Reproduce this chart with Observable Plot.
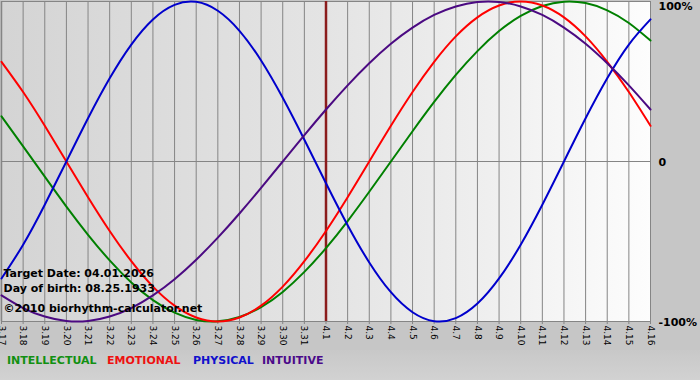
<!DOCTYPE html>
<html>
<head>
<meta charset="utf-8">
<script src="https://cdn.jsdelivr.net/npm/d3@7"></script>
<script src="https://cdn.jsdelivr.net/npm/@observablehq/plot@0.6"></script>
<style>
  html, body { margin: 0; padding: 0; }
  body { width: 700px; height: 380px; background: #c6c6c6; font-family: "DejaVu Sans", Verdana, sans-serif; overflow: hidden; }
  #chart { height: 350px; }
  #legend { position: relative; height: 30px; background: linear-gradient(#c8c8c8, #d2d2d2); }
  #legend span { position: absolute; top: 4px; font-weight: bold; font-size: 11px; white-space: nowrap; }
</style>
</head>
<body>
<div id="chart"></div>
<div id="legend"></div>
<script>
// Day labels (3.17 .. 4.16)
const dayLabels = ["3.17","3.18","3.19","3.20","3.21","3.22","3.23","3.24","3.25","3.26","3.27","3.28","3.29","3.30","3.31",
  "4.1","4.2","4.3","4.4","4.5","4.6","4.7","4.8","4.9","4.10","4.11","4.12","4.13","4.14","4.15","4.16"];
const targetIndex = 15; // 4.1

// Values read per day (-1 .. 1)
const intellectual = [0.282,0.095,-0.095,-0.282,-0.458,-0.618,-0.756,-0.866,-0.945,-0.990,-0.999,-0.972,-0.910,-0.815,-0.690,
  -0.541,-0.372,-0.189,0.000,0.189,0.372,0.541,0.690,0.815,0.910,0.972,0.999,0.990,0.945,0.866,0.756];
const emotional = [0.623,0.434,0.223,0.000,-0.223,-0.434,-0.623,-0.782,-0.901,-0.975,-1.000,-0.975,-0.901,-0.782,-0.623,
  -0.434,-0.223,0.000,0.223,0.434,0.623,0.782,0.901,0.975,1.000,0.975,0.901,0.782,0.623,0.434,0.223];
const physical = [-0.731,-0.520,-0.270,0.000,0.270,0.520,0.731,0.888,0.979,0.998,0.942,0.817,0.631,0.398,0.136,
  -0.136,-0.398,-0.631,-0.817,-0.942,-0.998,-0.979,-0.888,-0.731,-0.520,-0.270,0.000,0.270,0.520,0.731,0.888];
const intuitive = [-0.837,-0.916,-0.969,-0.997,-0.997,-0.969,-0.916,-0.837,-0.736,-0.614,-0.476,-0.325,-0.165,0.000,0.165,
  0.325,0.476,0.614,0.736,0.837,0.916,0.969,0.997,0.997,0.969,0.916,0.837,0.736,0.614,0.476,0.325];

const seriesNames = ["INTELLECTUAL","EMOTIONAL","PHYSICAL","INTUITIVE"];
const seriesColors = ["#008000","#ff0000","#0000cc","#4b0a82"];
const legendColors = ["#129012","#ee1111","#1111cc","#4b0a8a"];
const legendLefts = [7, 107, 193, 262];

const infoLines = ["Target Date: 04.01.2026", "Day of birth: 08.25.1933", "\u00a92010 biorhythm-calculator.net"];
const yTickValues = [1, 0, -1];
const yTickLabels = ["100%", "0", "-100%"];

const seriesValues = [intellectual, emotional, physical, intuitive];
const lineData = seriesValues.map(vals => vals.map((v, i) => ({i, v})));
const dayIdx = dayLabels.map((d, i) => i);

const plot = Plot.plot({
  width: 700,
  height: 350,
  marginLeft: 1,
  marginRight: 50,
  marginTop: 1,
  marginBottom: 29,
  x: {domain: [0, dayLabels.length - 1], axis: null},
  y: {domain: [-1, 1], axis: null},
  style: {background: "transparent", fontFamily: "DejaVu Sans, Verdana, sans-serif", overflow: "visible"},
  marks: [
    Plot.frame({fill: "url(#plotbg)", stroke: null}),
    Plot.ruleX(dayIdx.filter(i => i !== targetIndex), {stroke: "#858585", strokeWidth: 1}),
    Plot.ruleY([0], {stroke: "#858585", strokeWidth: 1}),
    Plot.ruleY([1], {stroke: "#858585", strokeWidth: 1}),
    Plot.ruleX([0], {stroke: "#858585", strokeWidth: 1.5}),
    Plot.axisX({
      ticks: dayIdx,
      tickFormat: i => dayLabels[i],
      tickRotate: 90,
      tickSize: 3,
      tickPadding: 1,
      fontSize: 9,
      stroke: "#858585",
      fill: "#000",
      label: null
    }),
    Plot.ruleY([-1], {stroke: "#858585", strokeWidth: 1}),
    Plot.ruleX([targetIndex], {stroke: "#8b1c1c", strokeWidth: 2.5}),
    ...lineData.map((d, k) => Plot.line(d, {x: "i", y: "v", stroke: seriesColors[k], strokeWidth: 2, curve: "natural"})),
    Plot.text([infoLines[0]], {frameAnchor: "bottom-left", dx: 2, dy: -45, lineAnchor: "bottom", textAnchor: "start", fontSize: 11, fontWeight: "bold", fill: "#000"}),
    Plot.text([infoLines[1]], {frameAnchor: "bottom-left", dx: 2, dy: -30, lineAnchor: "bottom", textAnchor: "start", fontSize: 11, fontWeight: "bold", fill: "#000"}),
    Plot.text([infoLines[2]], {frameAnchor: "bottom-left", dx: 2, dy: -10, lineAnchor: "bottom", textAnchor: "start", fontSize: 11, fontWeight: "bold", fill: "#000"}),
    Plot.text([yTickValues[0]], {y: d => d, frameAnchor: "right", text: () => yTickLabels[0], dx: 8, dy: 1, lineAnchor: "top", textAnchor: "start", fontSize: 11, fontWeight: "bold", fill: "#000"}),
    Plot.text(yTickValues.slice(1), {y: d => d, frameAnchor: "right", text: (d, i) => yTickLabels[i + 1], dx: 8, dy: 1, lineAnchor: "middle", textAnchor: "start", fontSize: 11, fontWeight: "bold", fill: "#000"})
  ]
});

// gradient definition for the plot background
const ns = "http://www.w3.org/2000/svg";
const defs = document.createElementNS(ns, "defs");
defs.innerHTML = '<linearGradient id="plotbg" x1="0" x2="1" y1="0" y2="0">' +
  '<stop offset="0" stop-color="#d4d4d4"/>' +
  '<stop offset="0.5" stop-color="#e4e4e4"/>' +
  '<stop offset="0.75" stop-color="#efefef"/>' +
  '<stop offset="1" stop-color="#fdfdfd"/></linearGradient>';
plot.insertBefore(defs, plot.firstChild);
document.getElementById("chart").appendChild(plot);

const legend = document.getElementById("legend");
seriesNames.forEach((name, k) => {
  const s = document.createElement("span");
  s.textContent = name;
  s.style.color = legendColors[k];
  s.style.left = legendLefts[k] + "px";
  legend.appendChild(s);
});
</script>
</body>
</html>
